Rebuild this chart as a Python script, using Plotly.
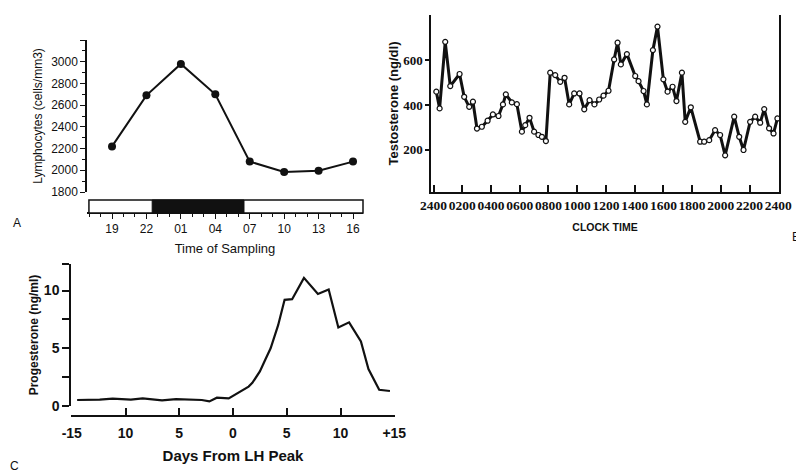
import plotly.graph_objects as go

# The page body keeps the browser's default 8px margin, so the figure is drawn
# 8px right / 8px down; size it to fit the 804x476 window.
OFF = 8
W, H = 804 - OFF, 476 - OFF

# ---------------- Panel A data ----------------
a_hours = [19, 22, 25, 28, 31, 34, 37, 40]
a_labels = ["19", "22", "01", "04", "07", "10", "13", "16"]
a_lymph = [2220, 2690, 2980, 2700, 2080, 1985, 1995, 2080]
dark_start, dark_end = 22.5, 30.5

# ---------------- Panel B data ----------------
b_hours = [0.19, 0.42, 0.81, 1.16, 1.81, 2.13, 2.48, 2.74, 3.02, 3.36, 3.76, 4.13,
           4.52, 4.83, 5.03, 5.45, 5.80, 6.15, 6.38, 6.68, 7.00, 7.30, 7.54, 7.82,
           8.12, 8.47, 8.82, 9.12, 9.44, 9.79, 10.16, 10.49, 10.86, 11.20, 11.53,
           11.83, 12.18, 12.57, 12.81, 13.04, 13.46, 14.04, 14.27, 14.62, 14.85,
           15.27, 15.59, 16.00, 16.29, 16.64, 16.91, 17.29, 17.52, 17.91, 18.56,
           18.84, 19.19, 19.60, 19.95, 20.30, 20.93, 21.28, 21.58, 22.04, 22.39,
           22.74, 23.02, 23.36, 23.67, 23.94]
b_testo = [460, 385, 683, 485, 539, 437, 392, 415, 295, 303, 330, 358,
           351, 403, 448, 412, 404, 281, 310, 343, 281, 266, 258, 239,
           545, 534, 504, 522, 403, 452, 452, 381, 422, 403, 425,
           442, 464, 604, 679, 582, 628, 530, 507, 463, 403,
           646, 751, 515, 460, 482, 418, 545, 325, 390, 236,
           236, 243, 288, 266, 175, 348, 258, 199, 325, 348,
           321, 382, 296, 273, 340]
b_tickvals = [0, 2, 4, 6, 8, 10, 12, 14, 16, 18, 20, 22, 24]
b_ticktext = ["2400", "0200", "0400", "0600", "0800", "1000", "1200", "1400",
              "1600", "1800", "2000", "2200", "2400"]

# ---------------- Panel C data ----------------
c_days = [-14.5, -12.4, -11.2, -9.5, -8.4, -7.5, -6.6, -5.3, -4.4, -2.9, -2.2, -1.5,
          -0.4, 0.4, 1.45, 1.8, 2.5, 3.0, 3.5, 4.2, 4.8, 5.5, 6.6, 7.9, 8.9, 9.8,
          10.8, 11.9, 12.6, 13.6, 14.6]
c_prog = [0.52, 0.55, 0.64, 0.55, 0.66, 0.55, 0.49, 0.60, 0.55, 0.52, 0.40, 0.72,
          0.66, 1.1, 1.68, 2.0, 3.0, 4.0, 5.0, 7.0, 9.2, 9.25, 11.1, 9.7, 10.1, 6.8,
          7.25, 5.6, 3.2, 1.4, 1.3]
c_tickvals = [-15, -10, -5, 0, 5, 10, 15]
c_ticktext = ["-15", "10", "5", "0", "5", "10", "+15"]


def px_x(x):
    return (x - OFF) / W


def px_y(y):
    return 1 - (y - OFF) / H


SANS = "Liberation Sans, Arial, sans-serif"
SERIF = "Liberation Serif, Times New Roman, serif"
INK = "#111111"

fig = go.Figure()

# Panel A
fig.add_trace(go.Scatter(x=a_hours, y=a_lymph, mode="lines+markers",
                         line=dict(color=INK, width=2),
                         marker=dict(color=INK, size=8),
                         xaxis="x", yaxis="y", showlegend=False))
# Panel B
fig.add_trace(go.Scatter(x=b_hours, y=b_testo, mode="lines+markers",
                         line=dict(color=INK, width=3),
                         marker=dict(color="white", size=5, line=dict(color=INK, width=1.2)),
                         xaxis="x2", yaxis="y2", showlegend=False))
# Panel C
fig.add_trace(go.Scatter(x=c_days, y=c_prog, mode="lines",
                         line=dict(color=INK, width=2.2),
                         xaxis="x3", yaxis="y3", showlegend=False))

axis_common = dict(showgrid=False, zeroline=False, showline=True, linecolor=INK,
                   linewidth=1.5, tickcolor=INK, automargin=False, tickangle=0)

fig.update_layout(
    width=W, height=H, margin=dict(l=0, r=0, t=0, b=0),
    paper_bgcolor="white", plot_bgcolor="white",
    # ---- A ----
    xaxis=dict(axis_common, domain=[px_x(87), px_x(363)], range=[16.82, 40.87],
               anchor="free", position=px_y(213),
               tickmode="array", tickvals=a_hours, ticktext=a_labels,
               ticks="outside", ticklen=5, tickwidth=1.3,
               minor=dict(dtick=1, tick0=0, ticks="outside", ticklen=3, tickcolor=INK, tickwidth=1),
               tickfont=dict(family=SANS, size=12, color=INK),
               title=dict(text="Time of Sampling", font=dict(family=SANS, size=13, color=INK), standoff=8)),
    yaxis=dict(axis_common, domain=[px_y(192), px_y(40)], range=[1800, 3200],
               anchor="x", tickmode="array", tickvals=[1800, 2000, 2200, 2400, 2600, 2800, 3000, 3200],
               ticktext=["1800", "2000", "2200", "2400", "2600", "2800", "3000", ""],
               ticks="outside", ticklen=5, tickwidth=1.3,
               minor=dict(dtick=100, tick0=0, ticks="outside", ticklen=3, tickcolor=INK, tickwidth=1),
               tickfont=dict(family=SANS, size=12, color=INK),
               title=dict(text="Lymphocytes (cells/mm3)", font=dict(family=SANS, size=12, color=INK), standoff=6)),
    # ---- B ----
    xaxis2=dict(axis_common, domain=[px_x(431), px_x(779)], range=[-0.18, 24.05],
                anchor="y2", tickmode="array", tickvals=b_tickvals, ticktext=b_ticktext,
                ticks="inside", ticklen=7, tickwidth=1.5,
                tickfont=dict(family=SERIF, size=13.5, color=INK, weight="bold"),
                title=dict(text="CLOCK TIME", font=dict(family=SANS, size=10.5, color=INK, weight="bold"), standoff=12)),
    yaxis2=dict(axis_common, domain=[px_y(192), px_y(15)], range=[11, 803],
                anchor="x2", mirror=True, tickmode="array", tickvals=[200, 400, 600],
                ticks="outside", ticklen=4, tickwidth=1.5,
                tickfont=dict(family=SERIF, size=13, color=INK, weight="bold"),
                title=dict(text="Testosterone (ng/dl)", font=dict(family=SANS, size=13, color=INK, weight="bold"), standoff=2)),
    # ---- C ----
    xaxis3=dict(axis_common, domain=[px_x(71), px_x(395)], range=[-15.07, 15.07],
                anchor="free", position=px_y(416),
                tickmode="array", tickvals=c_tickvals, ticktext=c_ticktext,
                ticks="inside", ticklen=7, tickwidth=1.8, ticklabelstandoff=4,
                tickfont=dict(family=SANS, size=14, color=INK, weight="bold"),
                title=dict(text="Days From LH Peak", font=dict(family=SANS, size=15, color=INK, weight="bold"), standoff=10)),
    yaxis3=dict(axis_common, domain=[px_y(406), px_y(264)], range=[0, 12.3],
                anchor="x3", tickmode="array", tickvals=[0, 2.5, 5, 7.5, 10, 12.3],
                ticktext=["0", "", "5", "", "10", ""],
                ticks="outside", ticklen=7, tickwidth=1.5,
                tickfont=dict(family=SANS, size=14, color=INK, weight="bold"),
                title=dict(text="Progesterone (ng/ml)", font=dict(family=SANS, size=12, color=INK, weight="bold"), standoff=3)),
)

# Light/dark strip for panel A
fig.add_shape(type="rect", xref="x domain", yref="paper", x0=0.007, x1=1,
              y0=px_y(213), y1=px_y(200), line=dict(color=INK, width=1.5), fillcolor="white")
fig.add_shape(type="rect", xref="x", yref="paper", x0=dark_start, x1=dark_end,
              y0=px_y(213), y1=px_y(200), line=dict(color=INK, width=1), fillcolor=INK)

# Panel letters
for txt, x, y in [("A", 17, 223), ("B", 796, 237), ("C", 14, 466)]:
    fig.add_annotation(text=txt, xref="paper", yref="paper", x=px_x(x), y=px_y(y),
                       showarrow=False, font=dict(family=SANS, size=12, color=INK),
                       xanchor="center", yanchor="middle")

fig.write_html("out.html")
